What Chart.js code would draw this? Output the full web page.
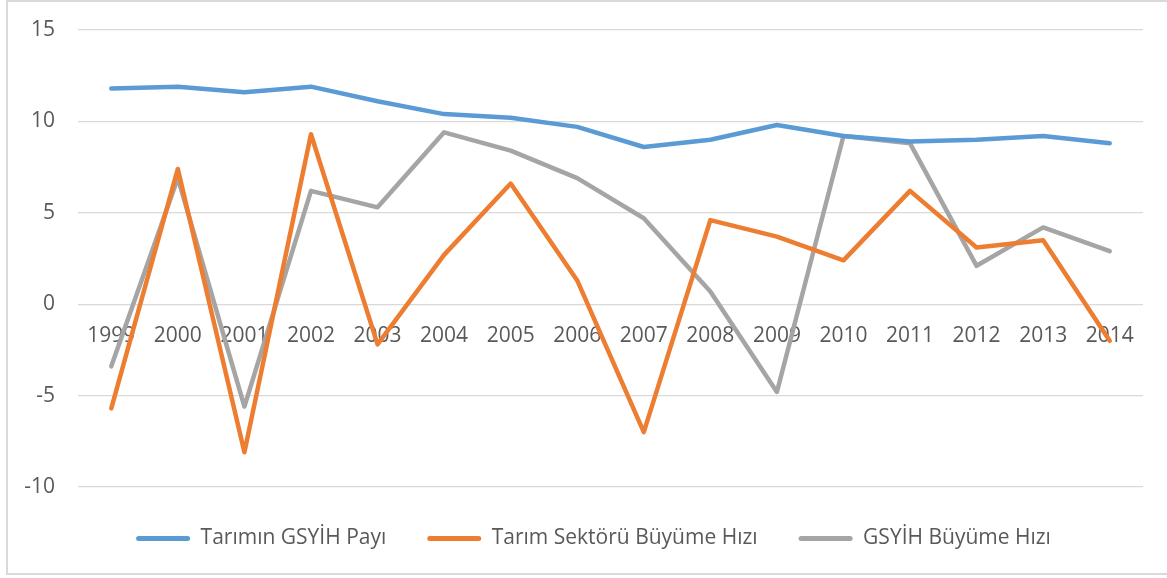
<!DOCTYPE html>
<html lang="tr">
<head>
<meta charset="utf-8">
<title>Tarım ve GSYİH büyüme</title>
<script src="https://cdn.jsdelivr.net/npm/chart.js@4.4.1/dist/chart.umd.min.js"></script>
<style>
  html, body { margin: 0; padding: 0; background: #fff; overflow: hidden; }
  #wrap { position: relative; width: 1167px; height: 578px; }
  #frame {
    position: absolute; left: 6px; top: 0; width: 1175px; height: 575px;
    border: 2px solid #d9d9d9; box-sizing: border-box;
  }
  #chart { position: absolute; left: 0; top: 0; }
</style>
</head>
<body>
<div id="wrap">
  <div id="frame"></div>
  <canvas id="chart" width="1167" height="578"></canvas>
</div>
<script>
// Years along the x axis
const years = ["1999","2000","2001","2002","2003","2004","2005","2006",
               "2007","2008","2009","2010","2011","2012","2013","2014"]

// Tarımın GSYİH Payı (%)
const tarimPayi = [11.8, 11.9, 11.6, 11.9, 11.1, 10.4, 10.2, 9.7,
                   8.6, 9.0, 9.8, 9.2, 8.9, 9.0, 9.2, 8.8]

// Tarım Sektörü Büyüme Hızı (%)
const tarimBuyume = [-5.7, 7.4, -8.1, 9.3, -2.2, 2.7, 6.6, 1.3,
                     -7.0, 4.6, 3.7, 2.4, 6.2, 3.1, 3.5, -2.0]

// GSYİH Büyüme Hızı (%)
const gsyihBuyume = [-3.4, 6.9, -5.6, 6.2, 5.3, 9.4, 8.4, 6.9,
                     4.7, 0.7, -4.8, 9.2, 8.8, 2.1, 4.2, 2.9]

const seriesNames = ["Tarımın GSYİH Payı", "Tarım Sektörü Büyüme Hızı", "GSYİH Büyüme Hızı"]
const yTicks = [-10, -5, 0, 5, 10, 15]

const BLUE   = "#5b9bd5"
const ORANGE = "#ed7d31"
const GRAY   = "#a5a5a5"
const TEXT   = "#595959"
const FONT   = "'Open Sans', 'Liberation Sans', sans-serif"

const line = (label, data, color) => ({
  label, data,
  borderColor: color,
  backgroundColor: color,
  borderWidth: 4.5,
  borderCapStyle: "round",
  borderJoinStyle: "round",
  pointRadius: 0,
  tension: 0,
})

// Excel centres its legend a little right of the canvas middle
const legendShift = {
  id: "legendShift",
  afterLayout(chart) {
    chart.legend.left += 22
    chart.legend.right += 22
  }
}

new Chart(document.getElementById("chart"), {
  type: "line",
  data: {
    labels: years,
    datasets: [
      line(seriesNames[0], tarimPayi, BLUE),
      line(seriesNames[1], tarimBuyume, ORANGE),
      line(seriesNames[2], gsyihBuyume, GRAY),
    ]
  },
  plugins: [legendShift],
  options: {
    responsive: false,
    animation: false,
    layout: { padding: { top: 30, right: 24, bottom: 19, left: 0 } },
    plugins: {
      tooltip: { enabled: false },
      legend: {
        position: "bottom",
        labels: {
          color: TEXT,
          font: { family: FONT, size: 21 },
          boxWidth: 54,
          boxHeight: 5,
          padding: 41,
          useBorderRadius: true,
          borderRadius: 2.5,
          generateLabels: (chart) =>
            Chart.defaults.plugins.legend.labels.generateLabels(chart)
              .map(item => ({ ...item, lineWidth: 0 })),
        }
      }
    },
    scales: {
      x: {
        position: { y: 0 },
        offset: true,
        grid: { display: false, drawTicks: false },
        border: { display: false },
        ticks: {
          color: TEXT,
          font: { family: FONT, size: 21 },
          padding: 19,
          maxRotation: 0,
          autoSkip: false,
        }
      },
      y: {
        min: -10,
        max: 15,
        afterBuildTicks: (scale) => { scale.ticks = yTicks.map(v => ({ value: v })) },
        afterFit: (scale) => { scale.width = 78; scale.paddingTop = 0 },
        grid: { color: "#d9d9d9", lineWidth: 1.3, drawTicks: false },
        border: { display: false },
        ticks: {
          color: TEXT,
          font: { family: FONT, size: 21 },
          padding: 23,
        }
      }
    }
  }
})
</script>
</body>
</html>
